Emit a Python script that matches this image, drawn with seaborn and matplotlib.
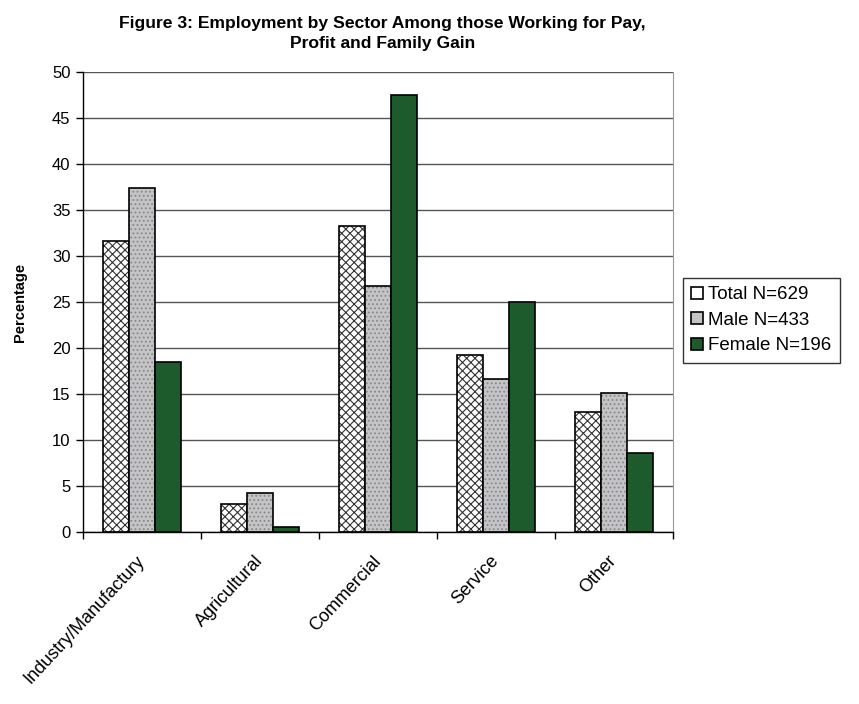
import pandas as pd
import numpy as np
import matplotlib.pyplot as plt
import seaborn as sns

# Data
sectors = ['Industry/Manufactury', 'Agricultural', 'Commercial', 'Service', 'Other']
total = [31.6, 3.0, 33.3, 19.2, 13.0]
male = [37.4, 4.2, 26.7, 16.6, 15.1]
female = [18.5, 0.5, 47.5, 25.0, 8.6]
groups = ['Total N=629', 'Male N=433', 'Female N=196']

df = pd.DataFrame({
    'sector': sectors * 3,
    'group': [groups[0]] * 5 + [groups[1]] * 5 + [groups[2]] * 5,
    'value': total + male + female,
})

sns.set_style('white')
plt.rcParams['font.family'] = ['Liberation Sans', 'DejaVu Sans']
plt.rcParams['hatch.linewidth'] = 0.8
plt.rcParams['text.color'] = 'black'
plt.rcParams['xtick.color'] = 'black'
plt.rcParams['ytick.color'] = 'black'
plt.rcParams['axes.labelcolor'] = 'black'

fig = plt.figure(figsize=(8.59, 7.04), dpi=100)
ax = fig.add_axes([0.0966, 0.2443, 0.6869, 0.6534])

colors = ['white', '#c4c4c6', '#1d5a2c']
sns.barplot(data=df, x='sector', y='value', hue='group', palette=colors,
            width=0.66, gap=0, edgecolor='black', linewidth=1.2, ax=ax,
            saturation=1)

hatches = ['xxxx', '....', '']
hatch_cols = ['#333333', '#888888', '#2e7a40']
for cont, h, hc in zip(ax.containers, hatches, hatch_cols):
    for bar in cont:
        bar.set_hatch(h)
        bar._hatch_color = plt.matplotlib.colors.to_rgba(hc)

ax.set_ylim(0, 50)
ax.set_yticks(np.arange(0, 51, 5))
ax.set_xlim(-0.5, 4.5)
ax.yaxis.grid(True, color='#555555', linewidth=1)
ax.set_axisbelow(True)
ax.set_xlabel('')
ax.set_ylabel('Percentage', fontsize=10.5, fontweight='bold', labelpad=18)
ax.tick_params(axis='y', left=True, length=5, width=1, labelsize=12, pad=4)
ax.tick_params(axis='x', which='major', length=0, labelsize=13, pad=19)
ax.set_xticks(np.arange(-0.5, 5, 1), minor=True)
ax.tick_params(axis='x', which='minor', length=5, width=1, bottom=True)
plt.setp(ax.get_xticklabels(), rotation=47, ha='right', va='center',
         rotation_mode='anchor')

for side in ['left', 'bottom']:
    ax.spines[side].set_color('black')
    ax.spines[side].set_linewidth(1)
ax.spines['top'].set_visible(False)
ax.spines['right'].set_color('#999999')

fig.suptitle('Figure 3: Employment by Sector Among those Working for Pay,\nProfit and Family Gain',
             x=0.445, y=0.977, fontsize=12.6, fontweight='bold', linespacing=1.4)

handles, labels = ax.get_legend_handles_labels()
ax.legend(handles, labels, loc='center left', bbox_to_anchor=(0.784, 0.545),
          bbox_transform=fig.transFigure, frameon=True, fancybox=False,
          edgecolor='black', fontsize=13.5, handlelength=0.6, handleheight=0.6,
          handletextpad=0.3, borderpad=0.45, labelspacing=0.45)
ax.get_legend().get_frame().set_linewidth(1)

plt.savefig('out.png', dpi=100)
